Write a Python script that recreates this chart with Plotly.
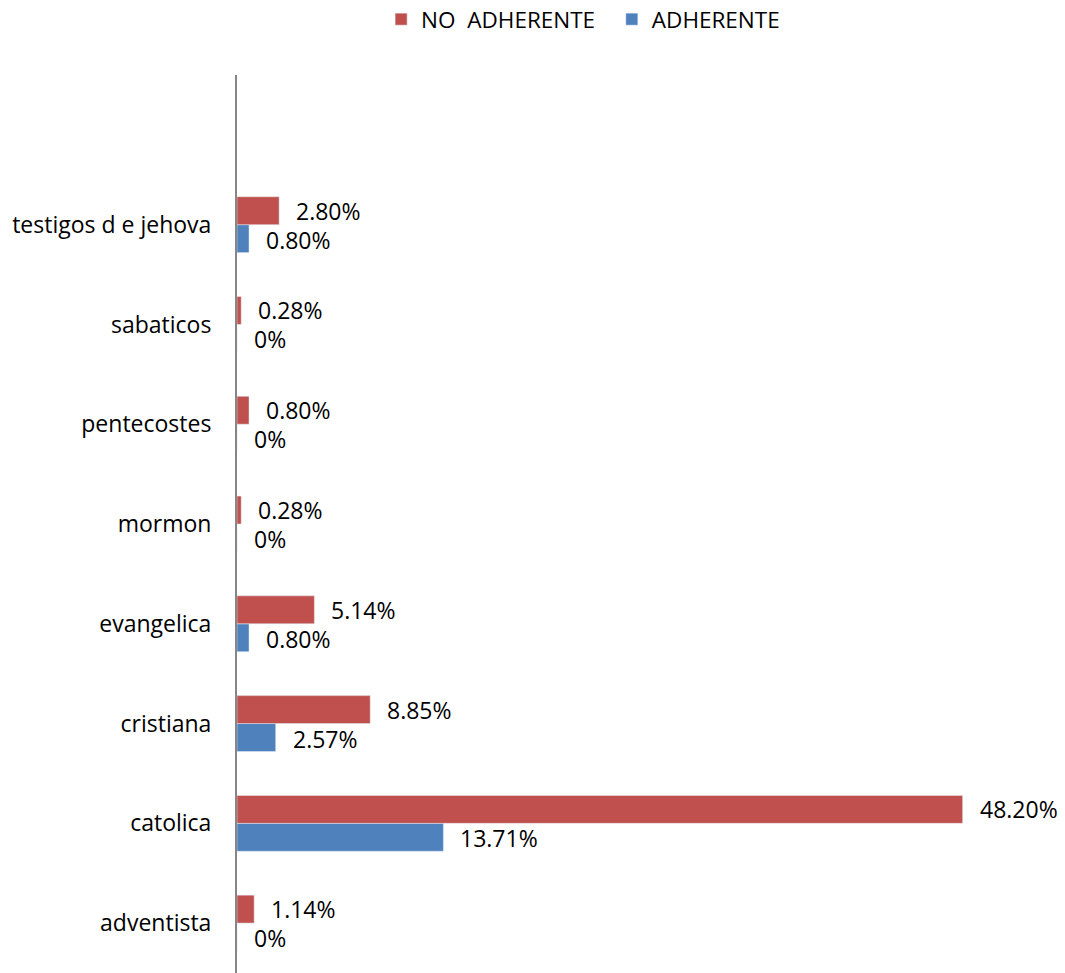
import plotly.graph_objects as go

categories = ["adventista", "catolica", "cristiana", "evangelica", "mormon",
              "pentecostes", "sabaticos", "testigos d e jehova"]
no_adherente = [1.14, 48.20, 8.85, 5.14, 0.28, 0.80, 0.28, 2.80]
adherente = [0.0, 13.71, 2.57, 0.80, 0.0, 0.0, 0.0, 0.80]
no_adherente_labels = ["1.14%", "48.20%", "8.85%", "5.14%", "0.28%", "0.80%", "0.28%", "2.80%"]
adherente_labels = ["0%", "13.71%", "2.57%", "0.80%", "0%", "0%", "0%", "0.80%"]

RED = "#C0504D"
BLUE = "#4F81BD"
FONT = "Open Sans"
FS = 23

fig = go.Figure()
ypos = list(range(len(categories)))
fig.add_trace(go.Bar(y=ypos, x=adherente, orientation="h", name="ADHERENTE",
                     marker=dict(color=BLUE), legendrank=2, offsetgroup="a"))
fig.add_trace(go.Bar(y=ypos, x=no_adherente, orientation="h",
                     name="NO\u00a0\u00a0ADHERENTE\u00a0\u00a0",
                     marker=dict(color=RED), legendrank=1, offsetgroup="b"))

# data labels
for i, (v, t) in enumerate(zip(no_adherente, no_adherente_labels)):
    fig.add_annotation(x=v, y=i + 0.14, text=t, showarrow=False, xanchor="left",
                       xshift=15, font=dict(family=FONT, size=FS, color="#000"))
for i, (v, t) in enumerate(zip(adherente, adherente_labels)):
    fig.add_annotation(x=v, y=i - 0.15, text=t, showarrow=False, xanchor="left",
                       xshift=15, font=dict(family=FONT, size=FS, color="#000"))

fig.update_layout(
    width=1057, height=965,
    margin=dict(l=229, r=0, t=67, b=0, autoexpand=False),
    barmode="group", bargap=0.44, bargroupgap=0,
    plot_bgcolor="white", paper_bgcolor="white",
    font=dict(family=FONT, size=FS, color="#000"),
    showlegend=True,
    legend=dict(orientation="h", xref="container", yref="paper",
                x=0.353, xanchor="left", y=1.0857, yanchor="top",
                font=dict(family=FONT, size=22.5), itemwidth=30,
                traceorder="normal"),
    xaxis=dict(range=[0, 55], visible=False, showgrid=False, zeroline=False),
    yaxis=dict(range=[-0.5, 8.5], tickmode="array", tickvals=ypos, ticktext=categories,
               showline=True, linecolor="#868686", linewidth=2, showgrid=False,
               zeroline=False, ticks="", ticklabelstandoff=19, automargin=False,
               tickfont=dict(family=FONT, size=FS)),
)

fig.write_html("out.html")
